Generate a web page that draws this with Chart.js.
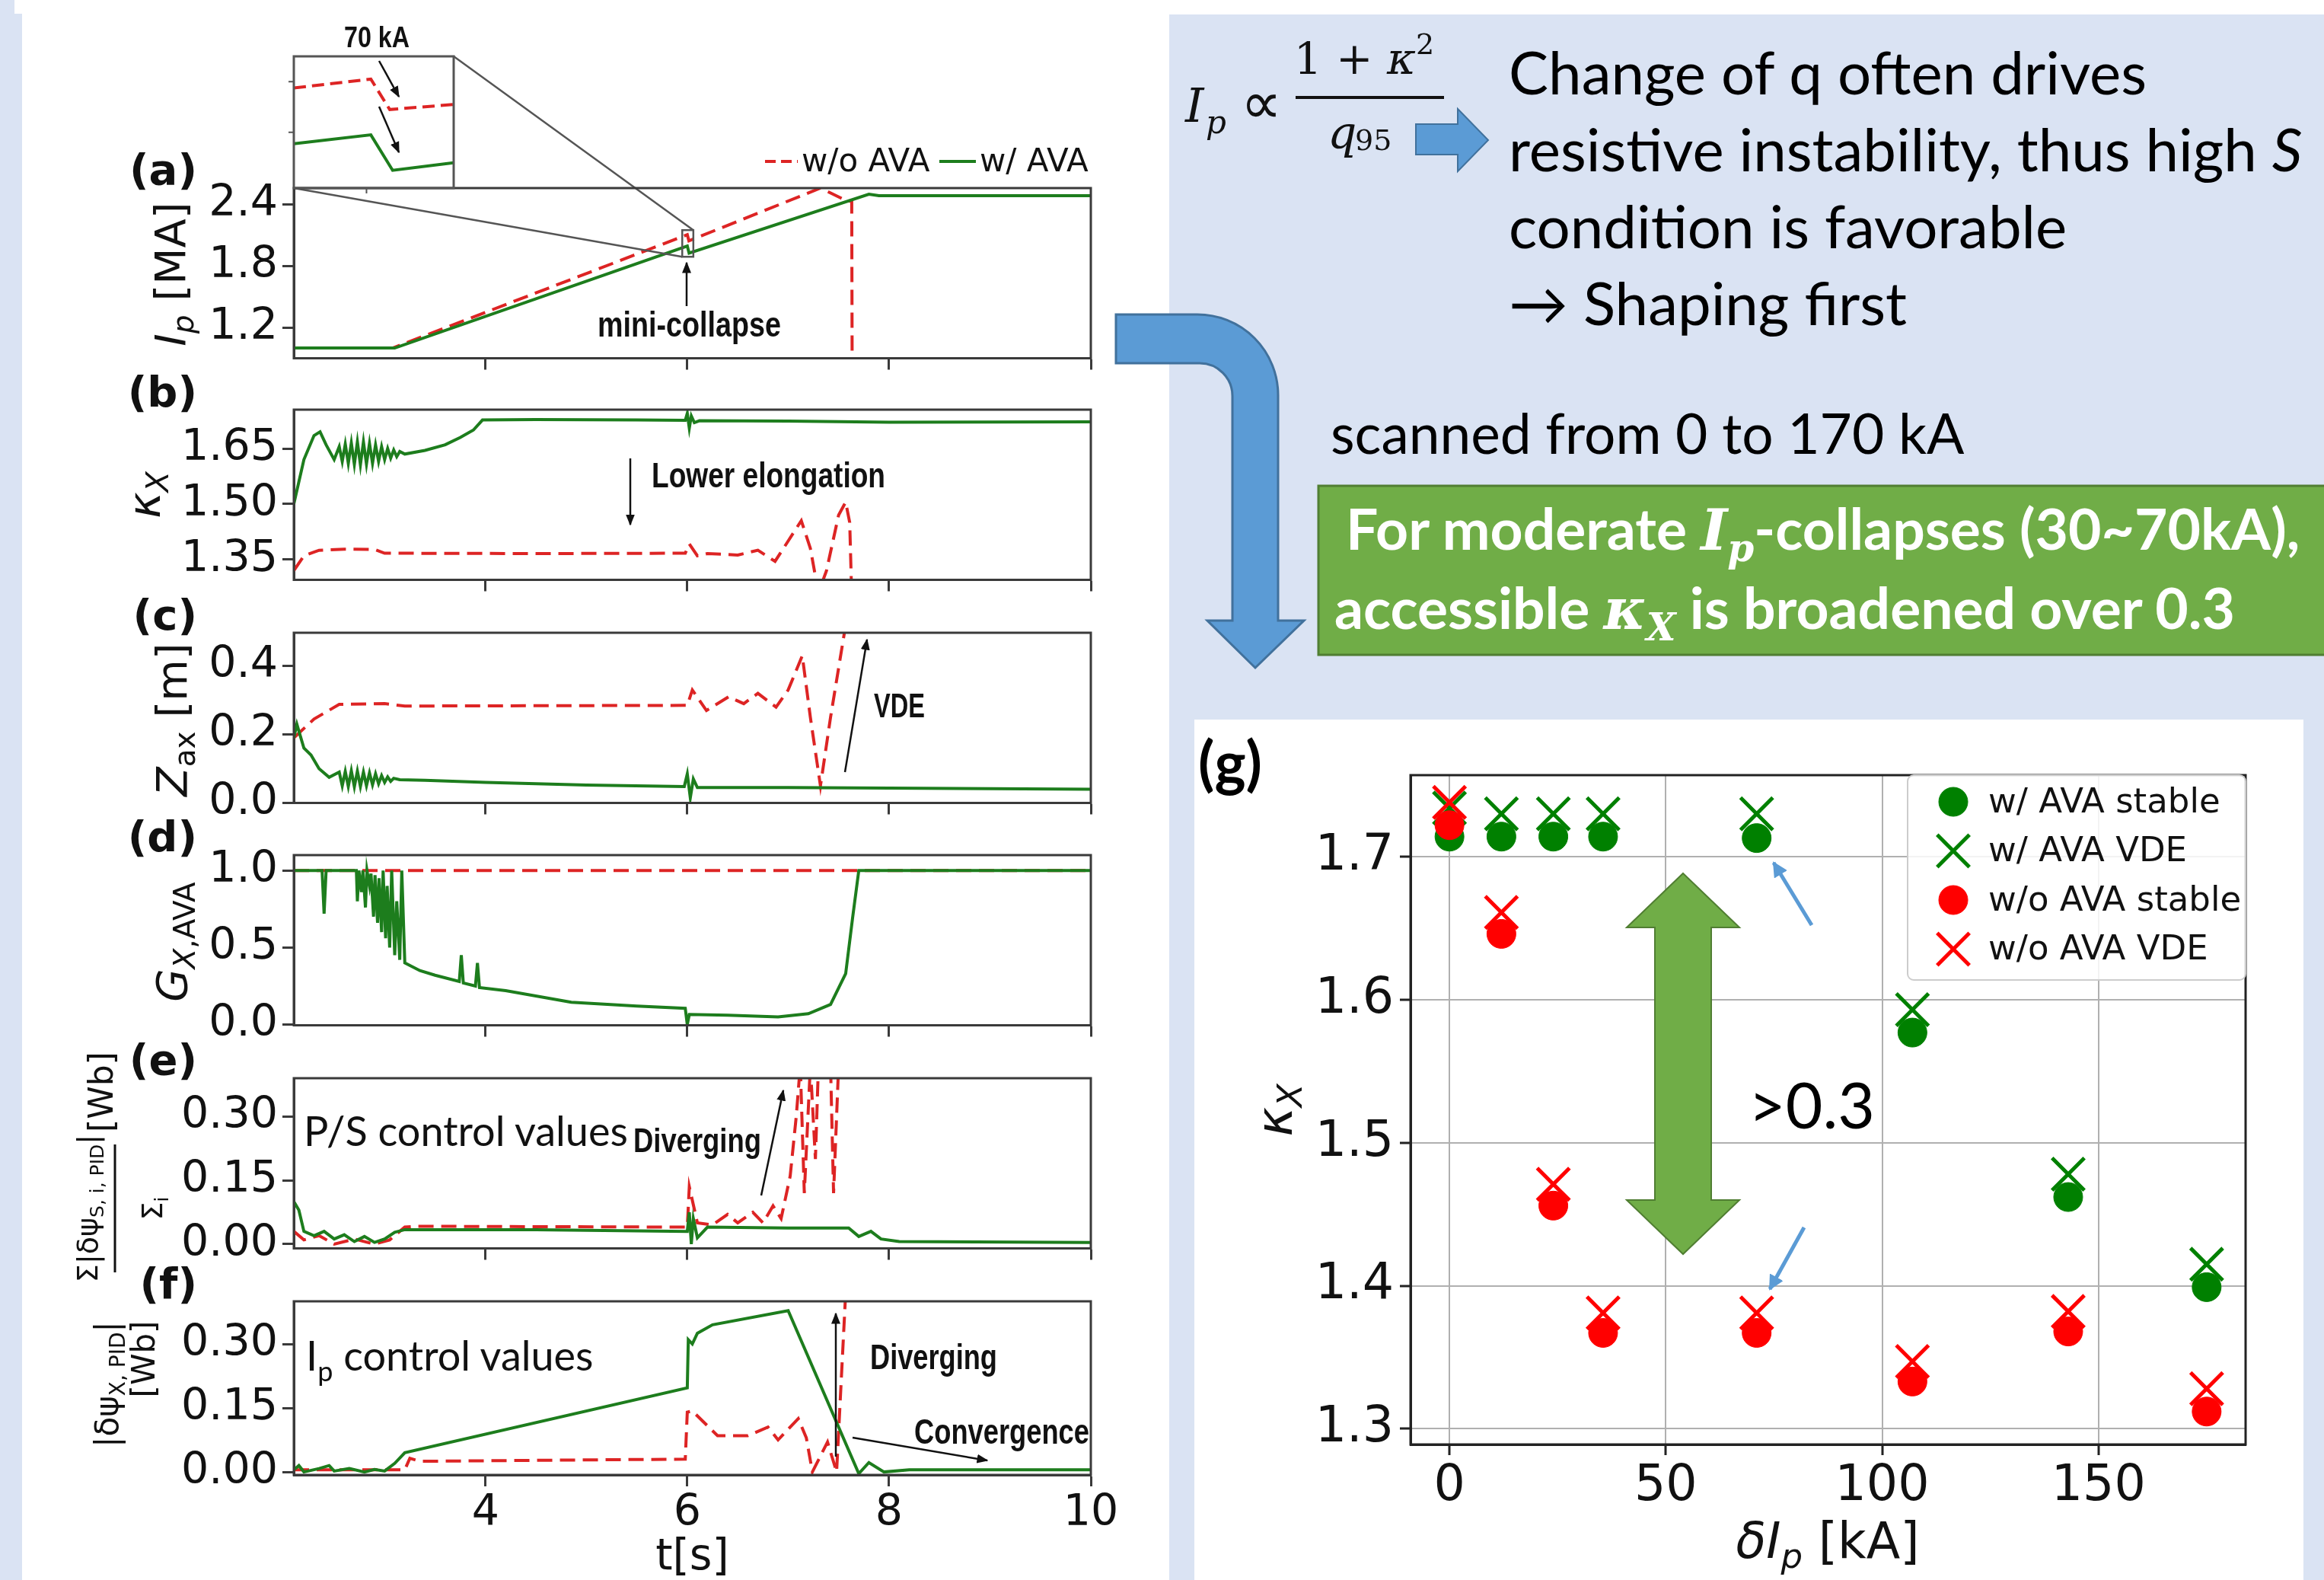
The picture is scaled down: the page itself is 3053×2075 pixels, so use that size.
<!DOCTYPE html>
<html>
<head>
<meta charset="utf-8">
<title>AVA scan</title>
<script src="https://cdn.jsdelivr.net/npm/chart.js@4.4.1/dist/chart.umd.min.js"></script>
<style>
  html, body { margin: 0; padding: 0; background: #fff; }
  body { width: 3053px; height: 2075px; position: relative; overflow: hidden; }
  .abs { position: absolute; }
  .plot canvas { display: block; }
</style>
</head>
<body>
<div class="abs" style="left:0;top:0;width:19px;height:2075px;background:#dae3f3"></div>
<div class="abs" style="left:19px;top:18px;width:10px;height:2057px;background:#dae3f3"></div>
<div class="abs" style="left:1536px;top:19px;width:1517px;height:2056px;background:#dae3f3"></div>
<div class="abs" style="left:1569px;top:945px;width:1457px;height:1130px;background:#fff"></div>

<div class="abs plot" id="pa" style="left:0;width:1500px"><canvas></canvas></div>
<div class="abs plot" id="pb" style="left:0;width:1500px"><canvas></canvas></div>
<div class="abs plot" id="pc" style="left:0;width:1500px"><canvas></canvas></div>
<div class="abs plot" id="pd" style="left:0;width:1500px"><canvas></canvas></div>
<div class="abs plot" id="pe" style="left:0;width:1500px"><canvas></canvas></div>
<div class="abs plot" id="pf" style="left:0;width:1500px"><canvas></canvas></div>
<div class="abs plot" id="inset" style="left:376px;top:64px;width:230px;height:193px"><canvas></canvas></div>
<div class="abs plot" id="pg" style="left:1569px;top:945px;width:1457px;height:1130px"><canvas></canvas></div>

<svg class="abs" style="left:0;top:0" width="3053" height="2075" xmlns="http://www.w3.org/2000/svg">
  <defs>
    <marker id="ah" viewBox="0 0 10 10" refX="9" refY="5" markerWidth="6" markerHeight="6" orient="auto"><path d="M0,1 L10,5 L0,9 z" fill="#111"/></marker>
    <marker id="ahb" viewBox="0 0 10 10" refX="9" refY="5" markerWidth="4" markerHeight="4" orient="auto"><path d="M0,0 L10,5 L0,10 z" fill="#5b9bd5"/></marker>
  </defs>

  <!-- panel labels -->
  <g font-family="DejaVu Sans" font-weight="bold" font-size="56" fill="#111" text-anchor="end">
    <text x="259" y="242">(a)</text>
    <text x="259" y="534">(b)</text>
    <text x="259" y="827">(c)</text>
    <text x="259" y="1118">(d)</text>
    <text x="259" y="1411">(e)</text>
    <text x="259" y="1705">(f)</text>
  </g>

  <!-- y labels of the time traces -->
  <g font-family="DejaVu Sans" fill="#111" text-anchor="middle">
    <text transform="translate(243,360) rotate(-90)" font-size="56"><tspan font-style="italic">I</tspan><tspan font-style="italic" font-size="39" dy="11">p</tspan><tspan dy="-11"> [MA]</tspan></text>
    <text transform="translate(210,650) rotate(-90)" font-size="58"><tspan font-style="italic">κ</tspan><tspan font-style="italic" font-size="40" dy="11">X</tspan></text>
    <text transform="translate(245,945) rotate(-90)" font-size="56"><tspan font-style="italic">Z</tspan><tspan font-size="39" dy="11">ax</tspan><tspan dy="-11"> [m]</tspan></text>
    <text transform="translate(245,1237) rotate(-90)" font-size="56"><tspan font-style="italic">G</tspan><tspan font-style="italic" font-size="39" dy="11">X</tspan><tspan font-size="39">,AVA</tspan></text>
    <g transform="translate(151,1587) rotate(-90)">
      <text x="0" y="-23" font-size="38">Σ|δψ<tspan font-size="25" dy="8">S, i, PID</tspan><tspan dy="-8">|</tspan></text>
      <rect x="-84" y="-1.5" width="168" height="3" fill="#111"/>
      <text x="0" y="62" font-size="38">Σ<tspan font-size="25" dy="8">i</tspan></text>
      <text x="100" y="-3" font-size="44" text-anchor="start">[Wb]</text>
    </g>
    <text transform="translate(155,1818) rotate(-90)" font-size="42">|δψ<tspan font-size="28" dy="9">X, PID</tspan><tspan dy="-9">|</tspan></text>
    <text transform="translate(203,1785) rotate(-90)" font-size="42">[Wb]</text>
  </g>

  <!-- legend of (a) -->
  <line x1="1005" y1="212" x2="1048" y2="212" stroke="#dd2424" stroke-width="4" stroke-dasharray="14 7"/>
  <text x="1053" y="225" font-family="DejaVu Sans" font-size="42" fill="#111">w/o AVA</text>
  <line x1="1234" y1="212" x2="1282" y2="212" stroke="#1d7d1d" stroke-width="4"/>
  <text x="1287" y="225" font-family="DejaVu Sans" font-size="42" fill="#111">w/ AVA</text>

  <!-- annotations of the time traces -->
  <g font-family="Liberation Sans" font-weight="bold" fill="#111">
    <text x="452" y="62" font-size="38" textLength="86" lengthAdjust="spacingAndGlyphs">70 kA</text>
    <text x="785" y="442" font-size="46" textLength="241" lengthAdjust="spacingAndGlyphs">mini-collapse</text>
    <text x="856" y="640" font-size="46" textLength="307" lengthAdjust="spacingAndGlyphs">Lower elongation</text>
    <text x="1148" y="942" font-size="44" textLength="67" lengthAdjust="spacingAndGlyphs">VDE</text>
    <text x="832" y="1513" font-size="44" textLength="168" lengthAdjust="spacingAndGlyphs">Diverging</text>
    <text x="1143" y="1798" font-size="46" textLength="167" lengthAdjust="spacingAndGlyphs">Diverging</text>
    <text x="1201" y="1896" font-size="46" textLength="230" lengthAdjust="spacingAndGlyphs">Convergence</text>
  </g>
  <g stroke="#111" stroke-width="2.5" marker-end="url(#ah)">
    <line x1="498" y1="80" x2="524" y2="127"/>
    <line x1="498" y1="140" x2="524" y2="200"/>
    <line x1="902" y1="402" x2="902" y2="345"/>
    <line x1="828" y1="602" x2="828" y2="689"/>
    <line x1="1110" y1="1014" x2="1139" y2="840"/>
    <line x1="1000" y1="1570" x2="1029" y2="1432"/>
    <line x1="1098" y1="1913" x2="1098" y2="1725"/>
    <line x1="1120" y1="1888" x2="1297" y2="1918"/>
  </g>
  <text x="399" y="1505" font-family="Lato" font-size="54" fill="#111">P/S control values</text>
  <text x="402" y="1800" font-family="Lato" font-size="54" fill="#111">I<tspan font-size="36" dy="14">p</tspan><tspan dy="-14"> control values</tspan></text>

  <!-- right panel -->
  <path d="M1466 413 H1573 A106 106 0 0 1 1679 519 V815 H1713 L1649 877 L1586 815 H1619 V520 A43 43 0 0 0 1576 477 H1466 Z" fill="#5b9bd5" stroke="#41719c" stroke-width="3"/>
  <path d="M1860 163 H1915 V143 L1955 184 L1915 225 V203 H1860 Z" fill="#5b9bd5" stroke="#41719c" stroke-width="2"/>

  <g font-family="DejaVu Serif" fill="#111">
    <text x="1557" y="160" font-style="italic" font-size="62">I</text>
    <text x="1584" y="175" font-style="italic" font-size="42">p</text>
    <text x="1630" y="162" font-family="DejaVu Sans" font-size="78" textLength="54" lengthAdjust="spacingAndGlyphs">∝</text>
    <text x="1792" y="97" text-anchor="middle" font-size="58">1 + <tspan font-style="italic">κ</tspan><tspan font-size="38" dy="-26">2</tspan></text>
    <rect x="1702" y="126" width="195" height="4"/>
    <text x="1744" y="195" font-style="italic" font-size="60">q</text>
    <text x="1780" y="197" font-size="38">95</text>
  </g>

  <g font-family="Lato" font-size="78" fill="#000">
    <text x="1982" y="124">Change of q often drives</text>
    <text x="1982" y="225">resistive instability, thus high <tspan font-style="italic">S</tspan></text>
    <text x="1982" y="326">condition is favorable</text>
    <text x="1982" y="427">→ Shaping first</text>
    <text x="1748" y="596" font-size="73">scanned from 0 to 170 kA</text>
  </g>

  <rect x="1732" y="638" width="1340" height="222" fill="#70ad47" stroke="#507e32" stroke-width="3"/>
  <g font-family="Lato" font-weight="bold" font-size="75" fill="#fff">
    <text x="1768" y="722">For moderate <tspan font-family="DejaVu Serif" font-style="italic">I</tspan><tspan font-family="DejaVu Serif" font-style="italic" font-size="50" dy="15">p</tspan><tspan dy="-15">-collapses (30~70kA),</tspan></text>
    <text x="1753" y="826">accessible <tspan font-family="DejaVu Serif" font-style="italic">κ</tspan><tspan font-family="DejaVu Serif" font-style="italic" font-size="50" dy="15">X</tspan><tspan dy="-15"> is broadened over 0.3</tspan></text>
  </g>

  <!-- (g) decorations -->
  <text x="1574" y="1030" font-family="Lato" font-weight="bold" font-size="78" fill="#000">(g)</text>
  <path d="M2211 1147 L2285 1218 H2248 V1576 H2285 L2211 1647 L2137 1576 H2174 V1218 H2137 Z" fill="#70ad47" stroke="#507e32" stroke-width="2"/>
  <text x="2297" y="1482" font-family="Lato" font-size="84" fill="#000">&gt;0.3</text>
  <line x1="2380" y1="1215" x2="2330" y2="1133" stroke="#5b9bd5" stroke-width="5" marker-end="url(#ahb)"/>
  <line x1="2370" y1="1612" x2="2325" y2="1693" stroke="#5b9bd5" stroke-width="5" marker-end="url(#ahb)"/>
  <g font-family="DejaVu Sans" fill="#111" text-anchor="middle">
    <text transform="translate(1697,1458) rotate(-90)" font-size="65"><tspan font-style="italic">κ</tspan><tspan font-style="italic" font-size="45" dy="13">X</tspan></text>
    <text x="2401" y="2046" font-size="65"><tspan font-style="italic">δI</tspan><tspan font-style="italic" font-size="45" dy="13">p</tspan><tspan dy="-13"> [kA]</tspan></text>
  </g>
</svg>

<script>
Chart.defaults.font.family = 'DejaVu Sans';
Chart.defaults.color = '#111';

const GREEN = '#1d7d1d';
const RED = '#dd2424';
const AXIS = '#3a3a3a';

// shared time axis [s]
const tTicks = [4, 6, 8, 10];

// (a) plasma current [MA], pairs of [t, value]
const ipWith = [[2.1, 1.0], [3.1, 1.0], [6.0, 1.995], [6.018, 1.925], [7.8, 2.5], [7.9, 2.485], [10, 2.485]];
const ipWithout = [[2.1, 1.0], [3.08, 1.0], [6.0, 2.105], [6.016, 2.045], [7.32, 2.56], [7.57, 2.44], [7.63, 2.43], [7.635, 0.5]];
const ipTicks = [1.2, 1.8, 2.4];

// zoomed inset of (a)
const insetT = [5.95, 6.06];
const insetIp = [1.89, 2.15];
const insetWith = [[5.95, 1.9775], [6.003, 1.995], [6.018, 1.925], [6.06, 1.94]];
const insetWithout = [[5.95, 2.0875], [6.003, 2.105], [6.016, 2.045], [6.06, 2.055]];

// (b) elongation kappa_X
const kapWith = [[2.1, 1.5], [2.2, 1.62], [2.3, 1.685], [2.36, 1.695], [2.42, 1.66], [2.5, 1.62],
  [2.55, 1.655], [2.58, 1.615], [2.61, 1.662], [2.64, 1.61], [2.67, 1.665], [2.7, 1.607], [2.73, 1.668],
  [2.76, 1.606], [2.79, 1.668], [2.82, 1.608], [2.85, 1.664], [2.88, 1.61], [2.91, 1.66], [2.94, 1.615],
  [2.97, 1.655], [3.0, 1.62], [3.03, 1.65], [3.06, 1.624], [3.09, 1.646], [3.12, 1.628], [3.15, 1.642],
  [3.2, 1.635], [3.4, 1.645], [3.6, 1.66], [3.75, 1.68], [3.88, 1.7], [3.97, 1.727], [4.5, 1.728],
  [5.5, 1.727], [5.98, 1.726], [6.0, 1.745], [6.02, 1.705], [6.04, 1.738], [6.07, 1.72], [6.12, 1.725],
  [7.0, 1.724], [8.0, 1.721], [10, 1.722]];
const kapWithout = [[2.1, 1.32], [2.2, 1.36], [2.35, 1.375], [2.6, 1.378], [2.9, 1.377], [3.0, 1.367],
  [4.5, 1.366], [5.98, 1.367], [6.02, 1.392], [6.1, 1.36], [6.2, 1.366], [6.5, 1.362], [6.7, 1.375],
  [6.87, 1.345], [7.0, 1.4], [7.13, 1.455], [7.22, 1.38], [7.3, 1.26], [7.38, 1.32], [7.5, 1.47],
  [7.57, 1.505], [7.61, 1.45], [7.63, 1.25]];
const kapTicks = [1.35, 1.5, 1.65];

// (c) magnetic axis height Z_ax [m]
const zWith = [[2.1, 0.19], [2.13, 0.23], [2.2, 0.16], [2.27, 0.14], [2.35, 0.1], [2.45, 0.075],
  [2.55, 0.09], [2.58, 0.05], [2.61, 0.092], [2.64, 0.048], [2.67, 0.094], [2.7, 0.047], [2.73, 0.093],
  [2.76, 0.048], [2.79, 0.09], [2.82, 0.05], [2.85, 0.088], [2.88, 0.053], [2.91, 0.085], [2.94, 0.056],
  [2.97, 0.08], [3.0, 0.06], [3.03, 0.076], [3.06, 0.063], [3.09, 0.072], [3.15, 0.068], [3.4, 0.066],
  [4.0, 0.06], [5.0, 0.052], [5.97, 0.048], [6.0, 0.085], [6.03, 0.015], [6.06, 0.07], [6.1, 0.045],
  [7.0, 0.045], [10, 0.04]];
const zWithout = [[2.1, 0.19], [2.3, 0.245], [2.55, 0.288], [3.0, 0.29], [3.2, 0.283], [6.0, 0.285],
  [6.05, 0.33], [6.19, 0.27], [6.41, 0.31], [6.56, 0.29], [6.7, 0.32], [6.88, 0.28], [7.0, 0.33],
  [7.14, 0.43], [7.22, 0.25], [7.32, 0.05], [7.42, 0.25], [7.57, 0.52]];
const zTicks = [0, 0.2, 0.4];

// (d) AVA gain G_X,AVA
const gWith = [[2.1, 1.0], [2.38, 1.0], [2.4, 0.72], [2.42, 1.0], [2.72, 1.0], [2.73, 0.8], [2.745, 1.0],
  [2.77, 0.86], [2.785, 1.0], [2.81, 0.76], [2.825, 1.0], [2.85, 0.9], [2.865, 0.98], [2.89, 0.7],
  [2.905, 0.97], [2.93, 0.66], [2.945, 0.95], [2.97, 0.6], [2.985, 1.0], [3.01, 0.56], [3.025, 0.9],
  [3.05, 0.5], [3.07, 1.0], [3.1, 0.45], [3.12, 0.8], [3.15, 0.42], [3.17, 1.0], [3.2, 0.4],
  [3.35, 0.35], [3.5, 0.32], [3.74, 0.28], [3.76, 0.45], [3.78, 0.27], [3.9, 0.25], [3.92, 0.4],
  [3.94, 0.24], [4.2, 0.22], [4.85, 0.145], [5.5, 0.12], [5.98, 0.105], [6.0, 0.0], [6.02, 0.065],
  [6.4, 0.06], [6.9, 0.05], [7.2, 0.07], [7.42, 0.13], [7.57, 0.33], [7.64, 0.7], [7.7, 1.0], [10, 1.0]];
const gWithout = [[2.1, 1.0], [10, 1.0]];
const gTicks = [0, 0.5, 1.0];

// (e) P/S control values [Wb]
const psWith = [[2.1, 0.1], [2.15, 0.08], [2.2, 0.03], [2.3, 0.02], [2.4, 0.03], [2.5, 0.012],
  [2.6, 0.022], [2.7, 0.006], [2.8, 0.018], [2.9, 0.004], [3.0, 0.012], [3.1, 0.028], [3.2, 0.034],
  [4.5, 0.034], [6.0, 0.03], [6.02, 0.075], [6.04, 0.0], [6.06, 0.06], [6.1, 0.015], [6.2, 0.04],
  [7.0, 0.038], [7.6, 0.038], [7.7, 0.018], [7.82, 0.03], [7.92, 0.012], [8.1, 0.006], [10, 0.004]];
const psWithout = [[2.1, 0.03], [2.2, 0.01], [2.35, 0.02], [2.5, 0.0], [2.7, 0.012], [2.9, 0.0],
  [3.05, 0.01], [3.2, 0.04], [3.3, 0.042], [6.0, 0.04], [6.02, 0.135], [6.1, 0.05], [6.25, 0.045],
  [6.4, 0.07], [6.5, 0.05], [6.65, 0.075], [6.75, 0.05], [6.85, 0.09], [6.93, 0.06], [7.02, 0.16],
  [7.08, 0.3], [7.12, 0.42], [7.16, 0.12], [7.22, 0.42], [7.27, 0.2], [7.3, 0.42], [7.42, 0.42],
  [7.45, 0.12], [7.5, 0.42]];
const psTicks = [0, 0.15, 0.3];

// (f) Ip control values [Wb]
const ipcWith = [[2.1, 0.005], [2.15, 0.015], [2.2, 0.0], [2.35, 0.008], [2.45, 0.015], [2.5, 0.002],
  [2.65, 0.008], [2.8, 0.0], [2.9, 0.006], [3.0, 0.002], [3.1, 0.02], [3.2, 0.045], [6.0, 0.197],
  [6.01, 0.31], [6.05, 0.3], [6.1, 0.325], [6.25, 0.345], [7.0, 0.378], [7.7, -0.004], [7.8, 0.022],
  [7.95, 0.0], [8.2, 0.005], [10, 0.005]];
const ipcWithout = [[2.1, 0.005], [3.2, 0.005], [3.25, 0.032], [3.35, 0.025], [5.98, 0.03], [6.0, 0.14],
  [6.05, 0.143], [6.3, 0.085], [6.6, 0.085], [6.8, 0.105], [6.9, 0.075], [7.1, 0.125], [7.18, 0.08],
  [7.24, 0.0], [7.39, 0.07], [7.48, 0.0], [7.57, 0.42]];
const ipcTicks = [0, 0.15, 0.3];

// (g) kappa_X reached vs size of the Ip collapse
const dIp = [0, 12, 24, 35.5, 71, 107, 143, 175];
const kapWithStable = [1.714, 1.714, 1.714, 1.714, 1.713, 1.577, 1.462, 1.399];
const kapWithVde = [1.734, 1.73, 1.73, 1.73, 1.73, 1.593, 1.478, 1.415];
const kapWithoutStable = [1.722, 1.646, 1.456, 1.367, 1.367, 1.333, 1.368, 1.312];
const kapWithoutVde = [1.738, 1.661, 1.471, 1.381, 1.381, 1.347, 1.382, 1.328];
const dIpTicks = [0, 50, 100, 150];
const kapXTicks = [1.3, 1.4, 1.5, 1.6, 1.7];

function xy(pairs) { return pairs.map(p => ({ x: p[0], y: p[1] })); }
function pts(xs, ys) { return xs.map((x, i) => ({ x: x, y: ys[i] })); }

// closes the box on the top and right, like matplotlib spines
Chart.register({
  id: 'frame',
  afterDraw(chart, args, opts) {
    if (!opts.width) return;
    const { ctx, chartArea: a } = chart;
    ctx.save();
    ctx.strokeStyle = opts.color;
    ctx.lineWidth = opts.width;
    ctx.strokeRect(a.left, a.top, a.right - a.left, a.bottom - a.top);
    ctx.restore();
  }
});

const INSET = { left: 386, top: 74, right: 596, bottom: 247 };

const zoomMark = {
  id: 'zoomMark',
  afterDatasetsDraw(chart) {
    const { ctx, scales: { x, y } } = chart;
    const x0 = x.getPixelForValue(insetT[0]), x1 = x.getPixelForValue(insetT[1]);
    const y0 = y.getPixelForValue(insetIp[1]), y1 = y.getPixelForValue(insetIp[0]);
    ctx.save();
    ctx.strokeStyle = '#555';
    ctx.lineWidth = 2.5;
    ctx.strokeRect(x0, y0, x1 - x0, y1 - y0);
    ctx.beginPath();
    ctx.moveTo(INSET.right, INSET.top); ctx.lineTo(x1, y0);
    ctx.moveTo(INSET.left, INSET.bottom); ctx.lineTo(x0, y1);
    ctx.stroke();
    ctx.restore();
  }
};

const PLOT_H = 228;

function makePanel(id, p) {
  const box = document.getElementById(id);
  box.style.top = (p.top - p.padTop) + 'px';
  box.style.height = (p.padTop + PLOT_H + p.axisH) + 'px';
  return new Chart(box.querySelector('canvas'), {
    type: 'line',
    data: {
      datasets: [
        { data: xy(p.green), borderColor: GREEN, borderWidth: 4, pointRadius: 0, tension: 0 },
        { data: xy(p.red), borderColor: RED, borderWidth: 4, borderDash: [20, 10], pointRadius: 0, tension: 0 }
      ]
    },
    options: {
      animation: false, responsive: true, maintainAspectRatio: false,
      layout: { padding: { left: 0, right: 67, top: p.padTop, bottom: 0 } },
      plugins: { legend: { display: false }, tooltip: { enabled: false }, frame: { color: AXIS, width: 3 } },
      scales: {
        x: {
          type: 'linear', min: 2.1, max: 10,
          afterBuildTicks: s => { s.ticks = tTicks.map(v => ({ value: v })); },
          afterFit: s => { s.height = p.axisH; },
          grid: { drawOnChartArea: false, tickLength: 15, tickWidth: 3, tickColor: AXIS },
          border: { color: AXIS, width: 3 },
          ticks: { display: !!p.xLabels, font: { size: 57, lineHeight: 1 }, padding: 8, maxRotation: 0 },
          title: { display: !!p.xLabels, text: 't[s]', font: { size: 57, lineHeight: 1 }, padding: 0 }
        },
        y: {
          min: p.min, max: p.max,
          afterBuildTicks: s => { s.ticks = p.ticks.map(v => ({ value: v })); },
          afterFit: s => { s.width = 386; },
          grid: { drawOnChartArea: false, tickLength: 15, tickWidth: 3, tickColor: AXIS },
          border: { color: AXIS, width: 3 },
          ticks: { font: { size: 57, lineHeight: 1 }, padding: 6, callback: v => v.toFixed(p.dec) }
        }
      }
    },
    plugins: p.extra ? [p.extra] : []
  });
}

makePanel('pa', { top: 247, padTop: 247, axisH: 30, green: ipWith, red: ipWithout, min: 0.9, max: 2.56, ticks: ipTicks, dec: 1, extra: zoomMark });
makePanel('pb', { top: 538, padTop: 90, axisH: 30, green: kapWith, red: kapWithout, min: 1.295, max: 1.755, ticks: kapTicks, dec: 2 });
makePanel('pc', { top: 831, padTop: 90, axisH: 30, green: zWith, red: zWithout, min: 0, max: 0.497, ticks: zTicks, dec: 1 });
makePanel('pd', { top: 1123, padTop: 90, axisH: 30, green: gWith, red: gWithout, min: -0.005, max: 1.1, ticks: gTicks, dec: 1 });
makePanel('pe', { top: 1416, padTop: 90, axisH: 30, green: psWith, red: psWithout, min: -0.01, max: 0.39, ticks: psTicks, dec: 2 });
makePanel('pf', { top: 1709, padTop: 90, axisH: 138, green: ipcWith, red: ipcWithout, min: -0.007, max: 0.4, ticks: ipcTicks, dec: 2, xLabels: true });

// inset: zoom on the mini-collapse
new Chart(document.querySelector('#inset canvas'), {
  type: 'line',
  data: {
    datasets: [
      { data: xy(insetWith), borderColor: GREEN, borderWidth: 4, pointRadius: 0 },
      { data: xy(insetWithout), borderColor: RED, borderWidth: 4, borderDash: [16, 8], pointRadius: 0 }
    ]
  },
  options: {
    animation: false, responsive: true, maintainAspectRatio: false,
    layout: { padding: 10 },
    plugins: { legend: { display: false }, tooltip: { enabled: false }, frame: { color: '#555', width: 3 } },
    scales: {
      x: { type: 'linear', display: false, min: insetT[0], max: insetT[1] },
      y: { display: false, min: insetIp[0], max: insetIp[1] }
    }
  },
  plugins: [{
    id: 'insetTicks',
    afterDraw(chart) {
      const { ctx, chartArea: a, scales: { x, y } } = chart;
      ctx.save();
      ctx.strokeStyle = '#555';
      ctx.lineWidth = 2;
      ctx.beginPath();
      [2.0, 2.1].forEach(v => { const py = y.getPixelForValue(v); ctx.moveTo(a.left - 7, py); ctx.lineTo(a.left, py); });
      const px = x.getPixelForValue(6.0);
      ctx.moveTo(px, a.bottom); ctx.lineTo(px, a.bottom + 7);
      ctx.stroke();
      ctx.restore();
    }
  }]
});

// (g)
const gLegend = {
  id: 'gLegend',
  afterDraw(chart) {
    const { ctx, chartArea: a } = chart;
    const w = 444, h = 269, x0 = a.right - w, y0 = a.top;
    ctx.save();
    ctx.fillStyle = 'rgba(255,255,255,0.85)';
    ctx.strokeStyle = '#cccccc';
    ctx.lineWidth = 2;
    ctx.beginPath();
    ctx.roundRect(x0, y0, w, h, 8);
    ctx.fill();
    ctx.stroke();
    ctx.font = '45px "DejaVu Sans"';
    ctx.textBaseline = 'middle';
    chart.data.datasets.forEach((ds, i) => {
      const cy = y0 + 35 + i * 64.5;
      ctx.fillStyle = ds.backgroundColor;
      ctx.strokeStyle = ds.borderColor;
      ctx.lineWidth = ds.borderWidth;
      Chart.helpers.drawPoint(ctx, { pointStyle: ds.pointStyle, radius: ds.pointRadius, borderWidth: ds.borderWidth, rotation: 0 }, x0 + 60, cy);
      ctx.fillStyle = '#111';
      ctx.fillText(ds.label, x0 + 106, cy + 2);
    });
    ctx.restore();
  }
};

new Chart(document.querySelector('#pg canvas'), {
  type: 'scatter',
  data: {
    datasets: [
      { label: 'w/ AVA stable', data: pts(dIp, kapWithStable), pointStyle: 'circle', pointRadius: 19, backgroundColor: '#008000', borderColor: '#008000', borderWidth: 1, order: 3 },
      { label: 'w/ AVA VDE', data: pts(dIp, kapWithVde), pointStyle: 'crossRot', pointRadius: 30, backgroundColor: '#008000', borderColor: '#008000', borderWidth: 5, order: 2 },
      { label: 'w/o AVA stable', data: pts(dIp, kapWithoutStable), pointStyle: 'circle', pointRadius: 19, backgroundColor: '#ff0000', borderColor: '#ff0000', borderWidth: 1, order: 1 },
      { label: 'w/o AVA VDE', data: pts(dIp, kapWithoutVde), pointStyle: 'crossRot', pointRadius: 30, backgroundColor: '#ff0000', borderColor: '#ff0000', borderWidth: 5, order: 0 }
    ]
  },
  options: {
    animation: false, responsive: true, maintainAspectRatio: false,
    layout: { padding: { left: 0, right: 76, top: 73, bottom: 0 } },
    plugins: { legend: { display: false }, tooltip: { enabled: false }, frame: { color: '#222', width: 3 } },
    scales: {
      x: {
        type: 'linear', min: -9, max: 184,
        afterBuildTicks: s => { s.ticks = dIpTicks.map(v => ({ value: v })); },
        afterFit: s => { s.height = 178; },
        grid: { color: '#b0b0b0', lineWidth: 2, tickLength: 14, tickWidth: 3, tickColor: '#222' },
        border: { color: '#222', width: 3 },
        ticks: { font: { size: 65, lineHeight: 1 }, padding: 10, maxRotation: 0 }
      },
      y: {
        min: 1.289, max: 1.757,
        afterBuildTicks: s => { s.ticks = kapXTicks.map(v => ({ value: v })); },
        afterFit: s => { s.width = 284; },
        grid: { color: '#b0b0b0', lineWidth: 2, tickLength: 14, tickWidth: 3, tickColor: '#222' },
        border: { color: '#222', width: 3 },
        ticks: { font: { size: 65, lineHeight: 1 }, padding: 8, callback: v => v.toFixed(1) }
      }
    }
  },
  plugins: [gLegend]
});
</script>
</body>
</html>
